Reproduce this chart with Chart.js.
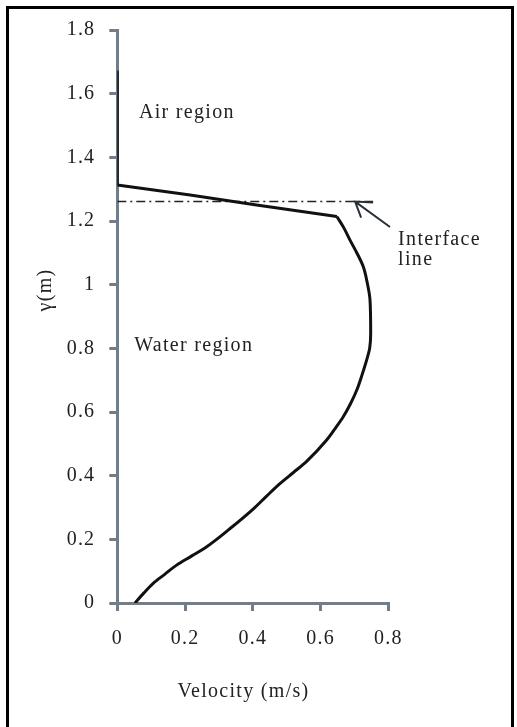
<!DOCTYPE html>
<html>
<head>
<meta charset="utf-8">
<script src="https://cdn.jsdelivr.net/npm/chart.js@4.4.0/dist/chart.umd.min.js"></script>
<style>
  html, body { margin: 0; padding: 0; background: #fff; }
  #wrap { width: 517px; height: 727px; position: relative; }
</style>
</head>
<body>
<div id="wrap"><canvas id="velChart"></canvas></div>
<script>
// velocity profile (m/s) against height (m)
const velocity = [0, 0, 0.215, 0.411, 0.648, 0.668, 0.687, 0.708, 0.726, 0.738, 0.746, 0.748, 0.745,
    0.736, 0.722, 0.707, 0.688, 0.667, 0.643, 0.618, 0.559, 0.520, 0.480, 0.440, 0.401, 0.333,
    0.264, 0.220, 0.175, 0.140, 0.106, 0.078, 0.052];
const height = [1.669, 1.313, 1.282, 1.250, 1.214, 1.180, 1.140, 1.098, 1.057, 1.005, 0.952, 0.847, 0.800,
    0.763, 0.715, 0.669, 0.625, 0.585, 0.548, 0.512, 0.445, 0.410, 0.375, 0.335, 0.295, 0.234,
    0.177, 0.148, 0.119, 0.090, 0.062, 0.031, 0];
// index of the kink where the air part meets the water part
const cornerIndex = 4;

// dash-dot interface line
const interfaceX = [0, 0.755];
const interfaceY = [1.261, 1.261];

const xTicks = [0, 0.2, 0.4, 0.6, 0.8];
const yTicks = [0, 0.2, 0.4, 0.6, 0.8, 1, 1.2, 1.4, 1.6, 1.8];

const xTitle = 'Velocity (m/s)';
const yTitle = 'γ(m)';

// text labels placed in data coordinates
const notes = [
    { text: 'Air region', x: 0.064, y: 1.539 },
    { text: 'Water region', x: 0.050, y: 0.807 },
    { text: 'Interface', x: 0.829, y: 1.140 },
    { text: 'line', x: 0.829, y: 1.078 }
];
// arrow from tail to tip, data coordinates
const arrowTail = { x: 0.805, y: 1.181 };
const arrowTip = { x: 0.702, y: 1.261 };

const axisGray = '#737d87';
const serif = "'Liberation Serif', 'DejaVu Serif', serif";

const toPoints = (xs, ys) => xs.map((v, i) => ({ x: v, y: ys[i] }));
const profile = toPoints(velocity, height);

const spacing = {
    id: 'spacing',
    beforeLayout(chart) { chart.ctx.letterSpacing = '1.2px'; },
    beforeDraw(chart) {
        const ctx = chart.ctx;
        ctx.save();
        ctx.fillStyle = '#fff';
        ctx.fillRect(0, 0, chart.width, chart.height);
        ctx.restore();
        ctx.letterSpacing = '1.2px';
    }
};

const extras = {
    id: 'extras',
    afterDraw(chart) {
        const ctx = chart.ctx;
        const xs = chart.scales.x, ys = chart.scales.y;
        ctx.save();
        ctx.letterSpacing = '1.3px';
        ctx.fillStyle = '#222';
        ctx.font = '20px ' + serif;
        ctx.textBaseline = 'middle';
        ctx.textAlign = 'left';
        notes.forEach(n => {
            ctx.fillText(n.text, xs.getPixelForValue(n.x), ys.getPixelForValue(n.y));
        });

        // axis titles
        ctx.textAlign = 'center';
        ctx.fillText(xTitle, 243.5, 692);
        ctx.save();
        ctx.translate(46, 290);
        ctx.rotate(-Math.PI / 2);
        ctx.fillText(yTitle, 0, 0);
        ctx.restore();

        // arrow
        const tx = xs.getPixelForValue(arrowTip.x), ty = ys.getPixelForValue(arrowTip.y);
        const sx = xs.getPixelForValue(arrowTail.x), sy = ys.getPixelForValue(arrowTail.y);
        ctx.strokeStyle = '#2a3038';
        ctx.lineWidth = 2;
        ctx.beginPath();
        ctx.moveTo(sx, sy);
        ctx.lineTo(tx, ty);
        ctx.moveTo(tx + 18, ty + 1);
        ctx.lineTo(tx, ty);
        ctx.lineTo(tx + 6, ty + 16);
        ctx.stroke();

        // outer frame
        ctx.strokeStyle = '#000';
        ctx.lineWidth = 3;
        ctx.strokeRect(7.5, 7.5, 505, 740);
        ctx.restore();
    }
};

const ctx = document.getElementById('velChart').getContext('2d');
new Chart(ctx, {
    type: 'scatter',
    data: {
        datasets: [
            {
                // air side and interface jump: straight segments
                data: profile.slice(0, cornerIndex + 1),
                showLine: true,
                borderColor: '#111',
                borderWidth: 3,
                pointRadius: 0,
                tension: 0,
                borderJoinStyle: 'round'
            },
            {
                // water side: smooth profile
                data: profile.slice(cornerIndex),
                showLine: true,
                borderColor: '#111',
                borderWidth: 3,
                pointRadius: 0,
                cubicInterpolationMode: 'monotone',
                borderJoinStyle: 'round'
            },
            {
                data: toPoints(interfaceX, interfaceY),
                showLine: true,
                borderColor: '#222',
                borderWidth: 1.5,
                borderDash: [9, 4, 2, 4],
                pointRadius: 0
            }
        ]
    },
    options: {
        indexAxis: 'y',
        responsive: true,
        maintainAspectRatio: false,
        animation: false,
        layout: { padding: { left: 20, top: 30, right: 128.7, bottom: 20 } },
        plugins: { legend: { display: false }, tooltip: { enabled: false } },
        scales: {
            x: {
                type: 'linear',
                position: 'bottom',
                min: 0,
                max: 0.8,
                afterBuildTicks: s => { s.ticks = xTicks.map(v => ({ value: v })); },
                afterFit: s => { s.height = 104; },
                ticks: {
                    color: '#222',
                    padding: 16,
                    font: { family: serif, size: 20 },
                    callback: v => String(v)
                },
                grid: { drawOnChartArea: false, tickLength: 8, tickColor: axisGray, lineWidth: 3 },
                border: { color: axisGray, width: 3 }
            },
            y: {
                type: 'linear',
                position: 'left',
                min: 0,
                max: 1.8,
                afterBuildTicks: s => { s.ticks = yTicks.map(v => ({ value: v })); },
                afterFit: s => { s.width = 97.3; },
                ticks: {
                    color: '#222',
                    padding: 14,
                    font: { family: serif, size: 20 },
                    callback: v => String(v)
                },
                grid: { drawOnChartArea: false, tickLength: 8, tickColor: axisGray, lineWidth: 3 },
                border: { color: axisGray, width: 3 }
            }
        }
    },
    plugins: [spacing, extras]
});
</script>
</body>
</html>
